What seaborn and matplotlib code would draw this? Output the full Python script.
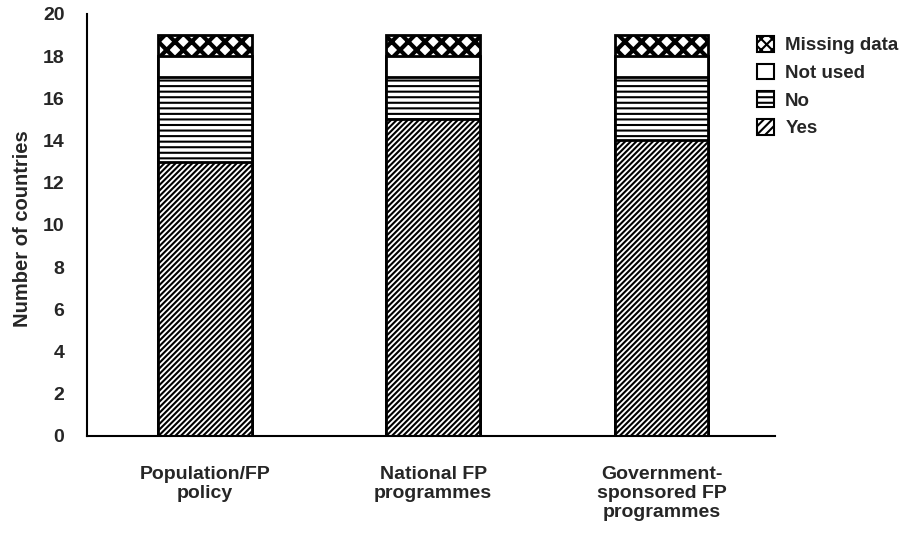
import matplotlib
matplotlib.use("Agg")
import matplotlib.pyplot as plt
import matplotlib.patches as mpatches
import pandas as pd
import seaborn as sns

# données
categories = ["Population/FP\npolicy", "National FP\nprogrammes", "Government-\nsponsored FP\nprogrammes"]
yes = [13, 15, 14]
no = [4, 2, 3]
not_used = [1, 1, 1]
missing = [1, 1, 1]

series_labels = ["Missing data", "Not used", "No", "Yes"]
series_hatch = ["xx", "", "---", "//////"]


def main():
    sns.set_style("white")
    plt.rcParams["font.family"] = ["Liberation Sans", "DejaVu Sans"]
    plt.rcParams["font.weight"] = "bold"
    plt.rcParams["hatch.linewidth"] = 1.5

    df = pd.DataFrame({"cat": categories, "Yes": yes, "No": no,
                       "Not used": not_used, "Missing data": missing})
    # cumuls pour empiler (on dessine du plus haut au plus bas)
    df["c_yes"] = df["Yes"]
    df["c_no"] = df["c_yes"] + df["No"]
    df["c_nu"] = df["c_no"] + df["Not used"]
    df["c_miss"] = df["c_nu"] + df["Missing data"]
    cum_cols = ["c_miss", "c_nu", "c_no", "c_yes"]

    fig = plt.figure(figsize=(9.03, 5.36), dpi=100)
    ax = fig.add_axes([0.096, 0.187, 0.762, 0.787])

    for col, hatch in zip(cum_cols, series_hatch):
        n_before = len(ax.patches)
        sns.barplot(data=df, x="cat", y=col, color="white", saturation=1,
                    width=0.41, edgecolor="black", linewidth=2.0,
                    hatch=hatch, ax=ax)
        if col == "c_miss":
            for p in ax.patches[n_before:]:
                if hasattr(p, "set_hatch_linewidth"):
                    p.set_hatch_linewidth(3.0)

    ax.set_xlim(-0.518, 2.496)
    ax.set_ylim(0, 20)
    ax.set_yticks(range(0, 21, 2))
    ax.tick_params(axis="y", length=0, pad=16, labelsize=14)
    ax.tick_params(axis="x", length=0, pad=22, labelsize=14)
    for t in ax.get_xticklabels():
        t.set_linespacing(1.15)
    ax.set_xlabel("")
    ax.set_ylabel("Number of countries", fontsize=14.5, fontweight="bold")
    ax.yaxis.set_label_coords(-0.08, 0.49)

    sns.despine(ax=ax)
    for s in ["left", "bottom"]:
        ax.spines[s].set_color("black")
        ax.spines[s].set_linewidth(1.5)

    handles = []
    for lab, h in zip(series_labels, series_hatch):
        hh = {"xx": "xxx", "//////": "////"}.get(h, h)
        handles.append(mpatches.Patch(facecolor="white", edgecolor="black",
                                      hatch=hh, linewidth=1.5, label=lab))
    fig.legend(handles=handles, loc="upper left",
               bbox_to_anchor=(744 / 903, 1 - 23 / 536), frameon=False,
               prop={"size": 13.5, "weight": "bold"}, handlelength=0.9,
               handleheight=0.9, handletextpad=0.6, labelspacing=0.5,
               borderpad=0.2)

    fig.savefig("out.png", dpi=100)
    plt.close(fig)


if __name__ == "__main__":
    main()
